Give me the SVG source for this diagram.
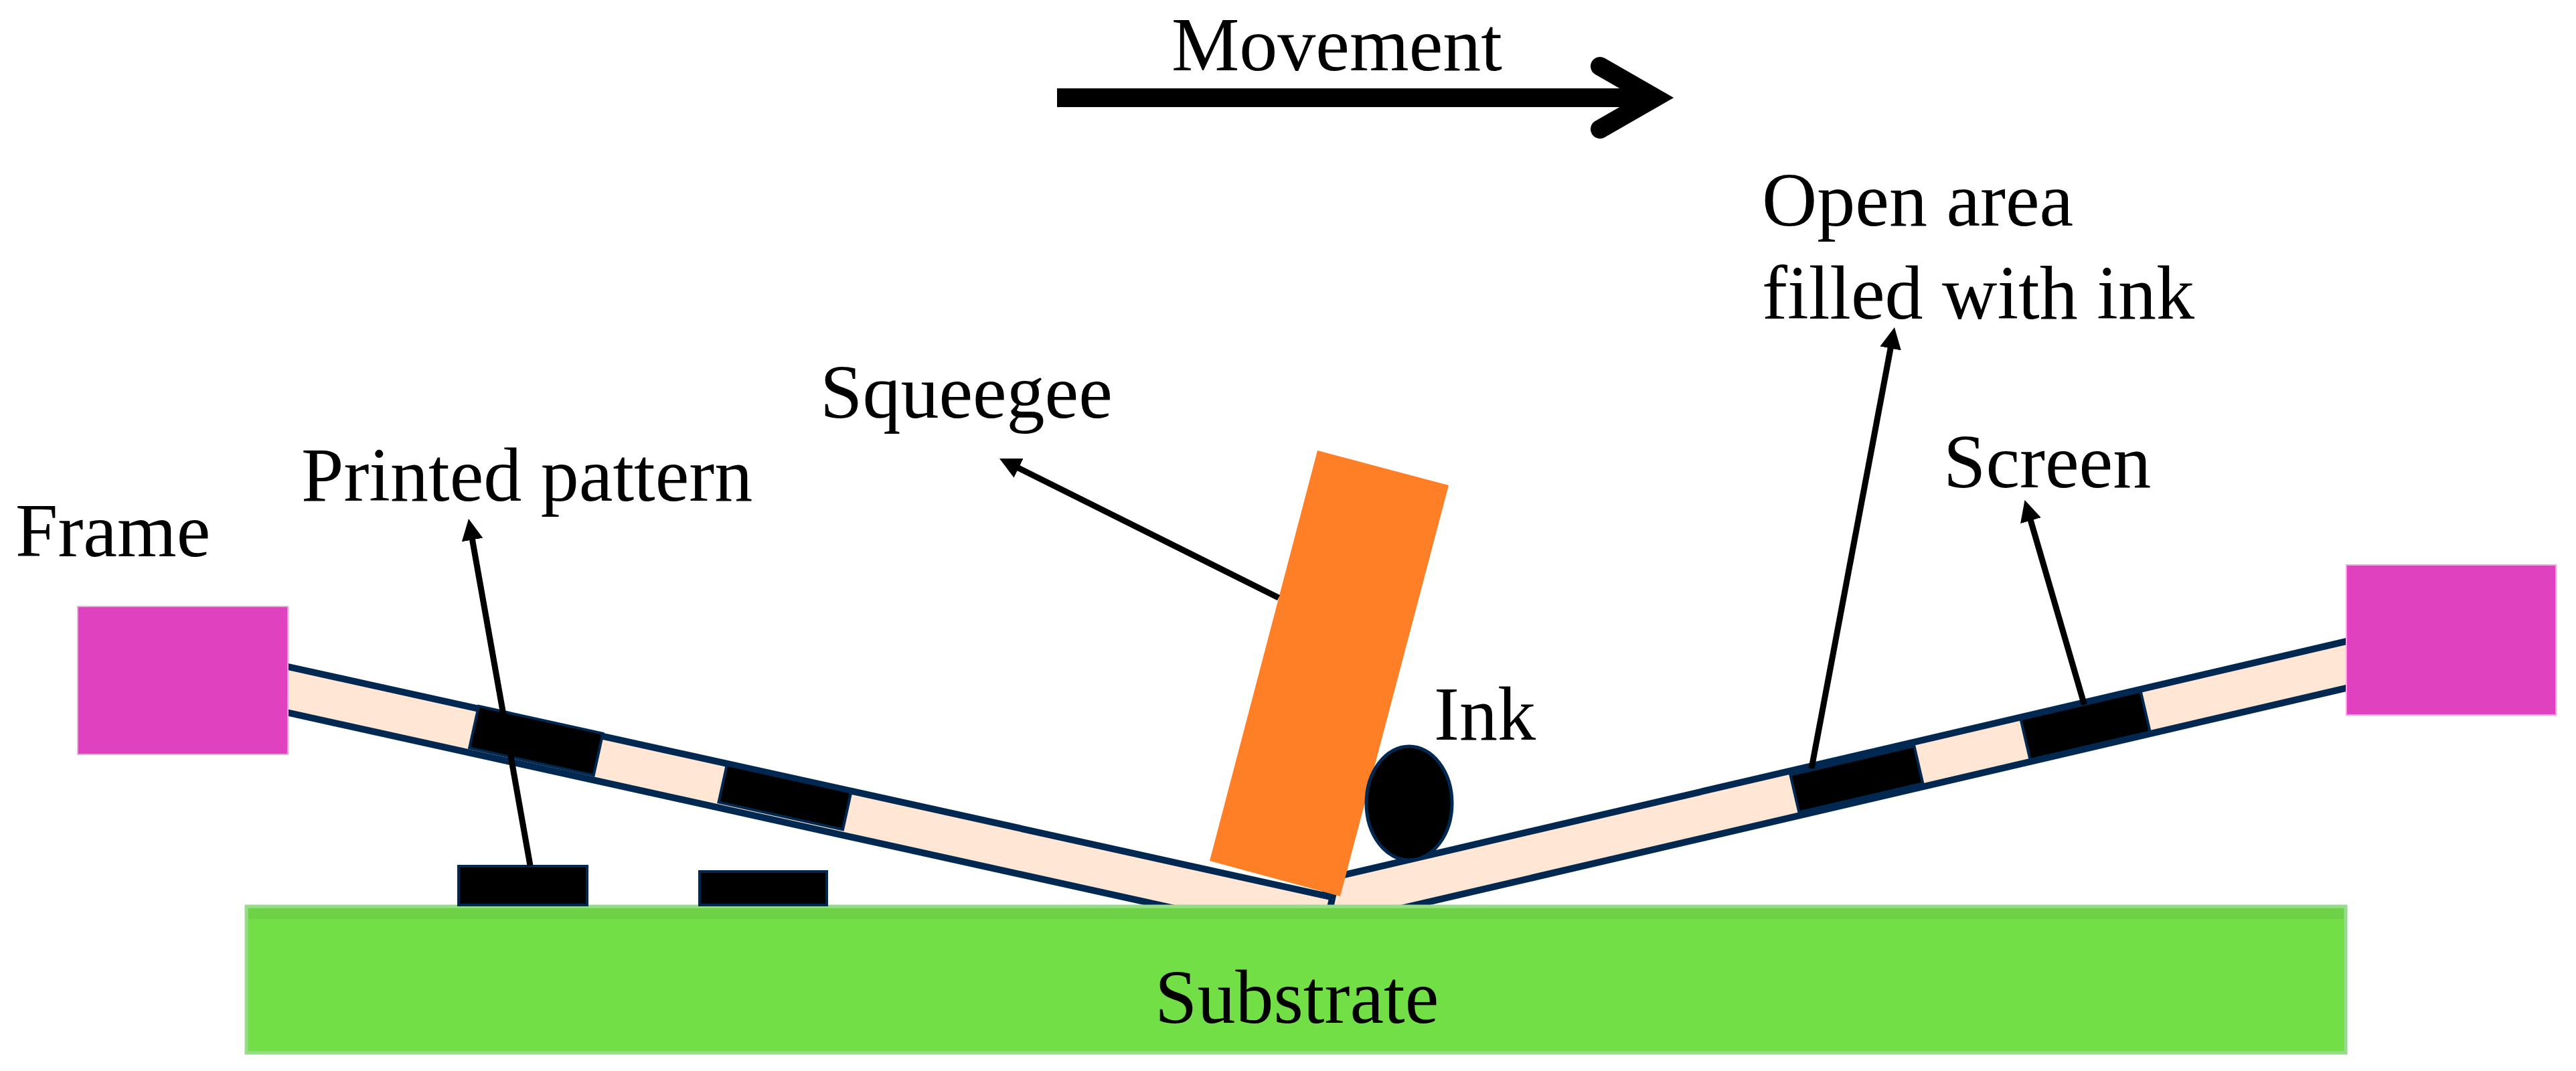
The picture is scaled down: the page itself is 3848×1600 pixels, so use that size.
<svg xmlns="http://www.w3.org/2000/svg" width="3848" height="1600" viewBox="0 0 3848 1600">
<style>
.lbl{font-family:"Liberation Serif","Times New Roman",serif;font-size:114px;fill:#000}
.strip{fill:#FFE6D5;stroke:#002850;stroke-width:10}
.blk{fill:#000;stroke:#002850;stroke-width:4}
.frame{fill:#E041BF;stroke:#F2A6E0;stroke-width:2}
.ptr{stroke:#000;stroke-width:9;fill:none;marker-end:url(#ah)}
</style>
<defs>
<marker id="ah" viewBox="0 0 32 32" refX="12" refY="16" markerWidth="32" markerHeight="32" markerUnits="userSpaceOnUse" orient="auto">
<path d="M0,0 L32,16 L0,32 z" fill="#000"/>
</marker>
</defs>
<rect width="3848" height="1600" fill="#fff"/>

<g id="screen-right">
<g transform="translate(2600,1169) rotate(-13.12)">
<rect class="strip" x="-640" y="0" width="1626" height="68"/>
<rect class="blk" x="75" y="6" width="190" height="57"/>
<rect class="blk" x="429" y="3" width="184" height="62"/>
</g>
</g>
<g id="screen-left">
<g transform="translate(430,996) rotate(12.45)">
<rect class="strip" x="-40" y="0" width="1638" height="67"/>
<rect class="blk" x="291" y="-4" width="190" height="64"/>
<rect class="blk" x="672" y="2" width="190" height="57"/>
</g>
</g>

<g id="frame-left"><rect class="frame" x="116" y="906" width="314" height="221"/></g>
<g id="frame-right"><rect class="frame" x="3505" y="844" width="313" height="224"/></g>

<g id="substrate">
<rect x="368" y="1354" width="3136" height="219" fill="#72DF47" stroke="#98DB8C" stroke-width="5"/>
<rect x="371" y="1357" width="3130" height="16" fill="#6DD246"/>
<text class="lbl" x="1725" y="1528">Substrate</text>
</g>

<g id="printed-pattern">
<rect class="blk" x="685" y="1294" width="192" height="58"/>
<rect class="blk" x="1045" y="1302" width="190" height="50"/>
</g>

<g id="squeegee"><polygon points="1968,673 2164,725 2002,1339 1807,1286" fill="#FF7F27"/></g>

<g id="ink"><ellipse cx="2105" cy="1200" rx="64" ry="85" fill="#000" stroke="#002850" stroke-width="5"/></g>

<g id="movement">
<line x1="1579" y1="146" x2="2465" y2="146" stroke="#000" stroke-width="28"/>
<polyline points="2390,99 2472,146 2390,193" fill="none" stroke="#000" stroke-width="28" stroke-linecap="round" stroke-linejoin="miter" stroke-miterlimit="4"/>
<text class="lbl" x="1750" y="105">Movement</text>
</g>

<g id="connectors">
<line class="ptr" x1="792" y1="1293" x2="703.5" y2="794.7"/>
<line class="ptr" x1="1910" y1="893" x2="1510.9" y2="693.9"/>
<line class="ptr" x1="2706" y1="1148" x2="2826.3" y2="508.7"/>
<line class="ptr" x1="3113.5" y1="1052.7" x2="3030.1" y2="766.2"/>
</g>

<g id="labels">
<text class="lbl" x="23" y="831">Frame</text>
<text class="lbl" x="450" y="748">Printed pattern</text>
<text class="lbl" x="1225" y="624">Squeegee</text>
<text class="lbl" x="2142" y="1105">Ink</text>
<text class="lbl" x="2632" y="337">Open area</text>
<text class="lbl" x="2632" y="476">filled with ink</text>
<text class="lbl" x="2903" y="728">Screen</text>
</g>
</svg>
